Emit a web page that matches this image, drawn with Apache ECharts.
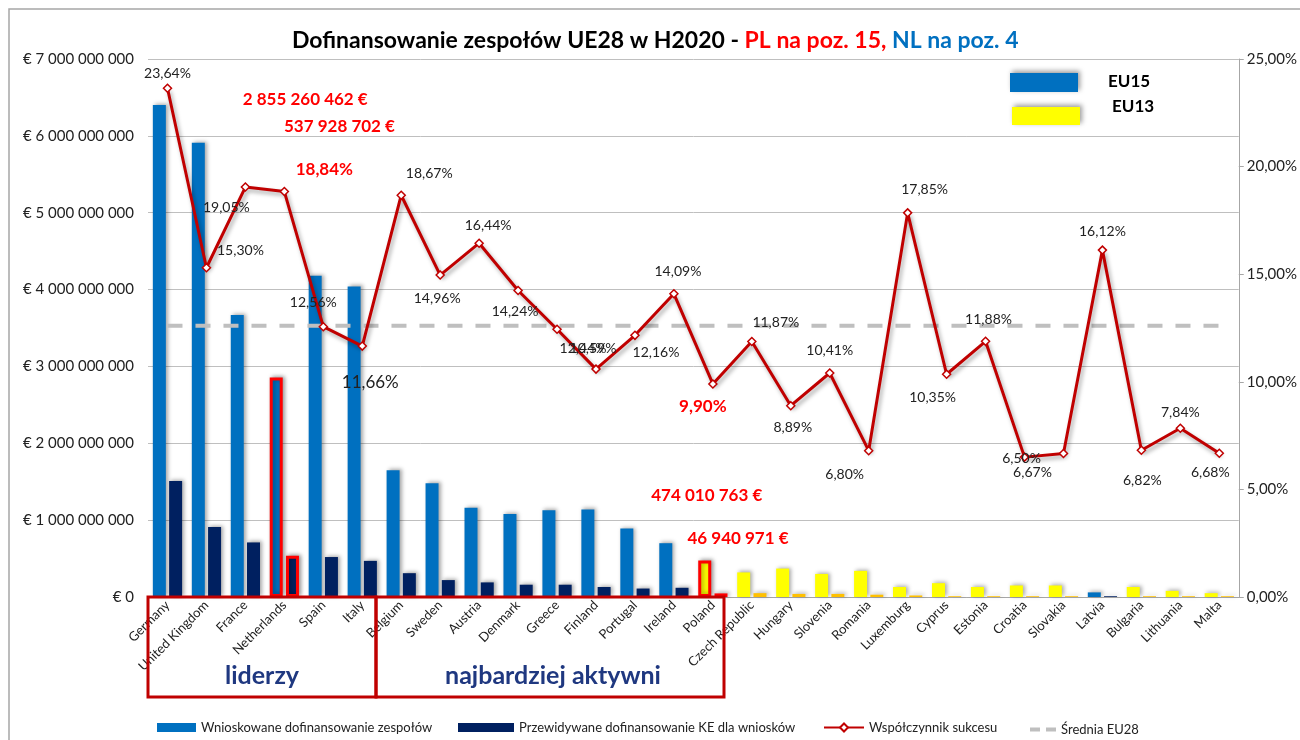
<!DOCTYPE html>
<html>
<head>
<meta charset="utf-8">
<script src="https://cdn.jsdelivr.net/npm/echarts@6/dist/echarts.min.js"></script>
<style>
html, body { margin: 0; padding: 0; background: #fff; }
#container { width: 1300px; height: 740px; }
</style>
</head>
<body>
<div id="container"></div>
<script>
var categories = ['Germany', 'United Kingdom', 'France', 'Netherlands', 'Spain', 'Italy', 'Belgium', 'Sweden',
  'Austria', 'Denmark', 'Greece', 'Finland', 'Portugal', 'Ireland', 'Poland', 'Czech Republic', 'Hungary',
  'Slovenia', 'Romania', 'Luxemburg', 'Cyprus', 'Estonia', 'Croatia', 'Slovakia', 'Latvia', 'Bulgaria',
  'Lithuania', 'Malta'];

// wnioskowane dofinansowanie (EUR)
var requested = [6.40e9, 5.91e9, 3.67e9, 2855260462, 4.18e9, 4.04e9, 1.65e9, 1.48e9,
  1.16e9, 1.08e9, 1.13e9, 1.14e9, 0.89e9, 0.70e9, 474010763, 0.32e9, 0.37e9,
  0.30e9, 0.34e9, 0.13e9, 0.18e9, 0.13e9, 0.15e9, 0.15e9, 0.06e9, 0.13e9,
  0.08e9, 0.05e9];

// przewidywane dofinansowanie KE (EUR)
var expected = [1.51e9, 0.91e9, 0.71e9, 537928702, 0.52e9, 0.47e9, 0.31e9, 0.22e9,
  0.19e9, 0.16e9, 0.16e9, 0.13e9, 0.11e9, 0.12e9, 46940971, 0.05e9, 0.04e9,
  0.04e9, 0.03e9, 0.02e9, 0.01e9, 0.01e9, 0.01e9, 0.01e9, 0.01e9, 0.01e9,
  0.01e9, 0.01e9];

// wspolczynnik sukcesu (%)
var successRate = [23.64, 15.30, 19.05, 18.84, 12.56, 11.66, 18.67, 14.96,
  16.44, 14.24, 12.44, 10.59, 12.16, 14.09, 9.90, 11.87, 8.89,
  10.41, 6.80, 17.85, 10.35, 11.88, 6.50, 6.67, 16.12, 6.82,
  7.84, 6.68];

var euAvg = 12.6;

var yellowGroup = ['Poland', 'Czech Republic', 'Hungary', 'Slovenia', 'Romania', 'Luxemburg', 'Cyprus',
  'Estonia', 'Croatia', 'Slovakia', 'Bulgaria', 'Lithuania', 'Malta'];
var highlighted = ['Netherlands', 'Poland'];

var legendNames = ['Wnioskowane dofinansowanie zespołów', 'Przewidywane dofinansowanie KE dla wniosków',
  'Współczynnik sukcesu', 'Średnia EU28'];

// przesuniecia etykiet procentowych (px)
var rateLabelOffset = [[0, -15], [34, -17], [-19, 20], [40, -22], [-10, -24], [8, 36], [28, -22], [-3, 23],
  [9, -18], [-3, 21], [26, 19], [-3, -21], [21, 17], [4, -22], [-10, 23], [24, -19], [2, 22],
  [0, -22], [-24, 24], [17, -23], [-14, 23], [3, -22], [-3, 1], [-31, 19], [0, -19], [1, 30],
  [0, -16], [-9, 19]];

var fontFam = 'Lato, "Liberation Sans", sans-serif';
var redBold = { color: '#ff0000', fontWeight: 'bold', fontSize: 17, fontFamily: fontFam };

function spaced(n) {
  return Math.round(n).toString().replace(/\B(?=(\d{3})+(?!\d))/g, ' ');
}
function pct(v) {
  return v.toFixed(2).replace('.', ',') + '%';
}

var reqData = requested.map(function (v, i) {
  var c = categories[i];
  var item = { value: v, itemStyle: { color: yellowGroup.indexOf(c) >= 0 ? '#ffff00' : '#0070c0' } };
  if (highlighted.indexOf(c) >= 0) {
    item.itemStyle.borderColor = '#ff0000';
    item.itemStyle.borderWidth = 3;
    item.label = Object.assign({ show: true, position: 'top', formatter: function (p) { return spaced(p.value) + ' €'; } }, redBold,
      { offset: c === 'Netherlands' ? [29, -265] : [2, -52] });
  }
  return item;
});

var expData = expected.map(function (v, i) {
  var c = categories[i];
  var item = { value: v, itemStyle: { color: yellowGroup.indexOf(c) >= 0 ? '#ffc000' : '#002060' } };
  if (highlighted.indexOf(c) >= 0) {
    item.itemStyle.borderColor = '#ff0000';
    item.itemStyle.borderWidth = 3;
    item.label = Object.assign({ show: true, position: 'top', formatter: function (p) { return spaced(p.value) + ' €'; } }, redBold,
      { offset: c === 'Netherlands' ? [47, -416] : [17, -41] });
  }
  return item;
});

var rateData = successRate.map(function (v, i) {
  var c = categories[i];
  var lab = { offset: rateLabelOffset[i] };
  if (highlighted.indexOf(c) >= 0) Object.assign(lab, redBold);
  if (c === 'Italy') lab.fontSize = 17;
  return { value: v, label: lab };
});

var avgData = categories.map(function () { return euAvg; });

var barShadow = { shadowColor: 'rgba(0,0,0,0.35)', shadowBlur: 4, shadowOffsetX: 2, shadowOffsetY: -1 };
var legendText = { fontSize: 13, color: '#222', fontFamily: fontFam };

var option = {
  animation: false,
  backgroundColor: '#fff',
  textStyle: { fontFamily: fontFam },
  title: {
    left: 287,
    top: 24,
    text: '{a|Dofinansowanie zespołów UE28 w H2020 - }{r|PL na poz. 15, }{b|NL na poz. 4}',
    textStyle: {
      rich: {
        a: { color: '#000', fontSize: 23, fontWeight: 'bold', fontFamily: fontFam },
        r: { color: '#ff0000', fontSize: 23, fontWeight: 'bold', fontFamily: fontFam },
        b: { color: '#0070c0', fontSize: 23, fontWeight: 'bold', fontFamily: fontFam }
      }
    }
  },
  grid: { left: 148, right: 58, top: 59, bottom: 143 },
  legend: [
    { left: 152, top: 716, itemWidth: 39, itemHeight: 9, textStyle: legendText, data: [{ name: legendNames[0], icon: 'rect' }] },
    { left: 453, top: 716, itemWidth: 56, itemHeight: 9, textStyle: legendText, data: [{ name: legendNames[1], icon: 'rect' }] },
    { left: 818, top: 716, itemWidth: 40, itemHeight: 10, textStyle: legendText, data: [{ name: legendNames[2] }] },
    { left: 1025, top: 718, itemWidth: 26, itemHeight: 5, textStyle: legendText,
      data: [{ name: legendNames[3], icon: 'path://M0,0H10V4H0Z M16,0H26V4H16Z', itemStyle: { color: '#bfbfbf' } }] }
  ],
  xAxis: {
    type: 'category',
    data: categories,
    axisLine: { lineStyle: { color: '#a6a6a6' } },
    axisTick: { show: false },
    axisLabel: { rotate: 45, interval: 0, fontSize: 13, color: '#222', margin: 6 }
  },
  yAxis: [{
    type: 'value',
    min: 0,
    max: 7e9,
    interval: 1e9,
    axisLine: { show: false },
    axisTick: { show: false },
    splitLine: { lineStyle: { color: '#bfbfbf' } },
    axisLabel: { fontSize: 15, color: '#222', margin: 14, formatter: function (v) { return '€ ' + spaced(v); } }
  }, {
    type: 'value',
    min: 0,
    max: 25,
    interval: 5,
    axisLine: { show: true, lineStyle: { color: '#a6a6a6' } },
    axisTick: { show: true, length: 5, lineStyle: { color: '#a6a6a6' } },
    splitLine: { show: false },
    axisLabel: { fontSize: 15, color: '#222', margin: 8, formatter: function (v) { return pct(v); } }
  }],
  series: [{
    name: legendNames[0],
    type: 'bar',
    barWidth: 13,
    barGap: '25%',
    itemStyle: Object.assign({ color: '#0070c0' }, barShadow),
    data: reqData
  }, {
    name: legendNames[1],
    type: 'bar',
    barWidth: 13,
    itemStyle: Object.assign({ color: '#002060' }, barShadow),
    data: expData
  }, {
    name: legendNames[3],
    type: 'line',
    yAxisIndex: 1,
    symbol: 'none',
    lineStyle: { color: '#bfbfbf', width: 4, type: [15, 13] },
    itemStyle: { color: '#bfbfbf' },
    z: 3,
    data: avgData
  }, {
    name: legendNames[2],
    type: 'line',
    yAxisIndex: 1,
    symbol: 'diamond',
    symbolSize: 8,
    z: 5,
    lineStyle: { color: '#c00000', width: 3, shadowColor: 'rgba(0,0,0,0.35)', shadowBlur: 4, shadowOffsetX: 2, shadowOffsetY: 3 },
    itemStyle: { color: '#fff', borderColor: '#c00000', borderWidth: 1.5 },
    label: {
      show: true,
      position: 'inside',
      fontSize: 14,
      color: '#222',
      formatter: function (p) { return pct(p.value); }
    },
    data: rateData
  }],
  graphic: [
    { type: 'rect', shape: { x: 9, y: 9, width: 1300, height: 740 }, style: { fill: 'none', stroke: '#a6a6a6', lineWidth: 1.5 }, silent: true },
    { type: 'rect', shape: { x: 148, y: 597, width: 228, height: 100 }, style: { fill: 'none', stroke: '#c00000', lineWidth: 3 }, z: 10 },
    { type: 'rect', shape: { x: 376, y: 597, width: 348, height: 100 }, style: { fill: 'none', stroke: '#c00000', lineWidth: 3 }, z: 10 },
    { type: 'text', x: 262, y: 676, style: { text: 'liderzy', fill: '#1f3880', font: 'bold 25px ' + fontFam, align: 'center', verticalAlign: 'middle' }, z: 10 },
    { type: 'text', x: 553, y: 676, style: { text: 'najbardziej aktywni', fill: '#1f3880', font: 'bold 25px ' + fontFam, align: 'center', verticalAlign: 'middle' }, z: 10 },
    { type: 'rect', shape: { x: 1010, y: 73, width: 68, height: 19 }, style: { fill: '#0070c0', shadowColor: 'rgba(0,0,0,0.4)', shadowBlur: 5, shadowOffsetX: 2, shadowOffsetY: -2 }, z: 10 },
    { type: 'rect', shape: { x: 1012, y: 107, width: 68, height: 18 }, style: { fill: '#ffff00', shadowColor: 'rgba(0,0,0,0.4)', shadowBlur: 5, shadowOffsetX: 2, shadowOffsetY: -2 }, z: 10 },
    { type: 'text', x: 1108, y: 82, style: { text: 'EU15', fill: '#000', font: 'bold 17px ' + fontFam, verticalAlign: 'middle' }, z: 10 },
    { type: 'text', x: 1112, y: 107, style: { text: 'EU13', fill: '#000', font: 'bold 17px ' + fontFam, verticalAlign: 'middle' }, z: 10 }
  ]
};

var myChart = window.echarts.init(document.getElementById('container'), null, { renderer: 'canvas' });
myChart.setOption(option);
</script>
</body>
</html>
